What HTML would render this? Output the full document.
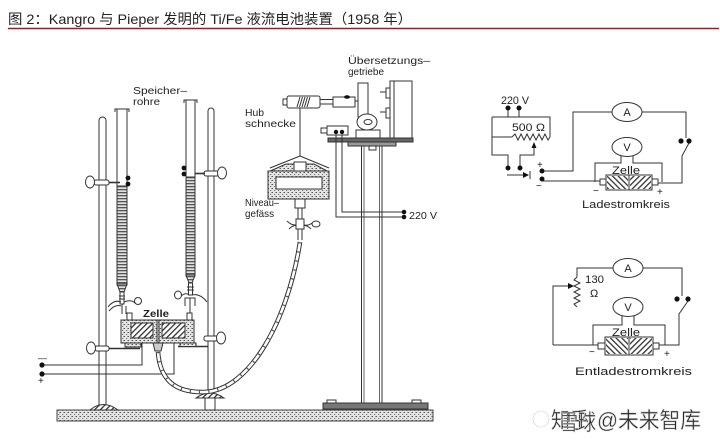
<!DOCTYPE html>
<html><head><meta charset="utf-8"><style>
html,body{margin:0;padding:0;background:#fff;}
svg{display:block;}
text{font-family:"Liberation Sans","Noto Sans CJK SC",sans-serif;fill:#222;}
</style></head><body>
<svg width="720" height="445" viewBox="0 0 720 445" xmlns="http://www.w3.org/2000/svg">
<defs>
<pattern id="stip" width="4" height="4" patternUnits="userSpaceOnUse">
<rect width="4" height="4" fill="#e4e4e4"/>
<rect x="0" y="0" width="1" height="1" fill="#555"/>
<rect x="2" y="2" width="1.2" height="1" fill="#777"/>
<rect x="3" y="0" width="1" height="1" fill="#999"/>
</pattern>
<pattern id="stripe" width="10" height="3" patternUnits="userSpaceOnUse">
<rect width="10" height="3" fill="#e0e0e0"/>
<rect y="0" width="10" height="1.3" fill="#555"/>
</pattern>
<pattern id="hatchA" width="4" height="4" patternUnits="userSpaceOnUse" patternTransform="rotate(45)">
<rect width="4" height="4" fill="#fff"/>
<rect width="1.3" height="4" fill="#333"/>
</pattern>
<pattern id="hatchB" width="4" height="4" patternUnits="userSpaceOnUse" patternTransform="rotate(-45)">
<rect width="4" height="4" fill="#fff"/>
<rect width="1.3" height="4" fill="#333"/>
</pattern>
</defs>

<!-- Title -->
<text x="8" y="24" font-size="14" fill="#111" textLength="404" lengthAdjust="spacingAndGlyphs">图 2：Kangro 与 Pieper 发明的 Ti/Fe 液流电池装置（1958 年）</text>
<line x1="8" y1="28.5" x2="719" y2="28.5" stroke="#a31818" stroke-width="1.5"/>

<g stroke="#333" stroke-width="1" fill="none">
<!-- Base slab -->
<rect x="57" y="410" width="376" height="11" fill="url(#stip)" stroke="#444"/>

<!-- Left rod -->
<rect x="99" y="117" width="7" height="292" rx="3.5" fill="#fff"/>
<!-- Right rod -->
<rect x="208" y="108" width="6" height="290" rx="3" fill="#fff"/>
<!-- Feet -->
<path d="M90,410 Q103,399 118,410 Z" fill="url(#hatchA)"/>
<path d="M196,398 Q210,388 224,398 Z" fill="url(#hatchA)"/>
<rect x="205" y="398" width="10" height="12" fill="#fff"/>

<!-- Left storage tube -->
<rect x="117" y="109" width="10" height="176" fill="#fff"/>
<path d="M115,112 V109 H129 V112"/>
<rect x="117" y="186" width="10" height="98" fill="url(#stripe)"/>
<polygon points="117,284 127,284 124,292 120,292" fill="url(#stripe)"/>
<rect x="120" y="292" width="4" height="12" fill="#fff"/>
<line x1="119" y1="296" x2="125" y2="296"/><line x1="119" y1="299" x2="125" y2="299"/>
<path d="M108,307 Q114,299 121,302"/>
<path d="M124,302 Q131,299 135,303"/>
<circle cx="138" cy="301" r="3.5" fill="#fff"/>
<path d="M109,311 Q115,304 121,306"/>
<line x1="122" y1="304" x2="122" y2="314"/>
<line x1="126" y1="306" x2="126" y2="314"/>

<!-- Right storage tube -->
<path d="M186,100 V276 Q190.5,284 195,276 V100 Z" fill="#fff"/>
<path d="M184,103 V100 H197 V103"/>
<rect x="186" y="177" width="9" height="98" fill="url(#stripe)"/>
<polygon points="186,275 195,275 192,283 189,283" fill="url(#stripe)"/>
<rect x="188.5" y="283" width="4" height="12" fill="#fff"/>
<line x1="187" y1="287" x2="194" y2="287"/><line x1="187" y1="290" x2="194" y2="290"/>
<path d="M181,296 Q186,292 189,295"/>
<path d="M192,295 Q200,293 207,302"/>
<ellipse cx="178" cy="295" rx="3.5" ry="4" fill="#fff"/>
<path d="M185,306 V298 H195 V306"/>
<line x1="190" y1="298" x2="190" y2="314"/>

<!-- Upper clamps -->
<rect x="94" y="180" width="15" height="5" rx="2" fill="#fff"/>
<ellipse cx="90" cy="182" rx="4.5" ry="6" fill="#fff"/>
<line x1="109" y1="182.5" x2="120" y2="182.5" stroke-width="1.6"/>
<rect x="204" y="171" width="15" height="5" rx="2" fill="#fff"/>
<ellipse cx="222" cy="173" rx="4.5" ry="6" fill="#fff"/>
<line x1="195" y1="173.5" x2="205" y2="173.5" stroke-width="1.6"/>
</g>
<g fill="#111">
<circle cx="128" cy="178" r="2.4"/><circle cx="128" cy="184" r="2.4"/>
<circle cx="184" cy="168" r="2.4"/><circle cx="184" cy="174" r="2.4"/>
</g>

<g stroke="#333" stroke-width="1" fill="none">
<!-- Cell -->
<rect x="127" y="313" width="5" height="8" fill="#fff"/>
<rect x="187" y="313" width="5" height="8" fill="#fff"/>
<rect x="121" y="320" width="73" height="23" fill="url(#stip)"/>
<rect x="131" y="323" width="22" height="15" fill="url(#hatchA)"/>
<rect x="162" y="323" width="23" height="15" fill="url(#hatchA)"/>
<line x1="157" y1="320" x2="157" y2="343"/><line x1="159" y1="320" x2="159" y2="343"/>
<!-- cell clamps -->
<rect x="95" y="346" width="14" height="5" rx="2" fill="#fff"/>
<ellipse cx="91" cy="348" rx="4.5" ry="6" fill="#fff"/>
<line x1="109" y1="348.5" x2="140" y2="348.5" stroke-width="1.5"/>
<rect x="125" y="343" width="16" height="4" fill="url(#stip)"/>
<rect x="204" y="336" width="14" height="5" rx="2" fill="#fff"/>
<ellipse cx="221" cy="338" rx="4.5" ry="6" fill="#fff"/>
<line x1="178" y1="346.5" x2="208" y2="346.5" stroke-width="1.5"/>
<rect x="180" y="343" width="16" height="3.5" fill="url(#stip)"/>
<!-- connector under cell -->
<path d="M153,343 H163 L161,351 H155 Z" fill="#ccc"/>
<!-- wires to terminals -->
<path d="M142,343 V365 H44"/>
<path d="M174,343 V374 H44"/>

<!-- Flexible tube -->
<path d="M158,352 C160,380 175,393 205,392 C250,390 288,320 300,242" stroke="#333" stroke-width="4.6"/>
<path d="M158,352 C160,380 175,393 205,392 C250,390 288,320 300,242" stroke="#fff" stroke-width="2.6"/>
<path d="M158,352 C160,380 175,393 205,392 C250,390 288,320 300,242" stroke="#555" stroke-width="2.6" stroke-dasharray="1.2 8"/>

<!-- Column -->
<line x1="361.5" y1="146" x2="361.5" y2="403"/>
<line x1="364" y1="146" x2="364" y2="403" stroke="#666"/>
<line x1="379.5" y1="146" x2="379.5" y2="403" stroke="#666"/>
<line x1="382" y1="146" x2="382" y2="403"/>
<rect x="323" y="403" width="105" height="6" fill="#777"/>
<rect x="327" y="400" width="9" height="3" fill="#fff"/>
<rect x="412" y="400" width="9" height="3" fill="#fff"/>

<!-- Gear assembly -->
<rect x="390" y="81" width="22" height="57" fill="#fff"/>
<line x1="394" y1="81" x2="394" y2="138"/>
<path d="M380,92 H386 V88 H390 M386,92 V98 H390 M380,112 H386 V108 H390 M386,112 V118 H390"/>
<rect x="358" y="83" width="10" height="34" fill="#fff"/>
<ellipse cx="367" cy="122" rx="10" ry="8" fill="#fff"/>
<ellipse cx="368" cy="122" rx="4" ry="2.5"/>
<rect x="356" y="130" width="24" height="8" fill="#fff"/>
<rect x="328" y="138" width="85" height="4" fill="#666"/>
<rect x="348" y="142" width="48" height="4" fill="#999"/>
<rect x="369" y="146" width="7" height="4" fill="#fff"/>

<!-- Hub screw -->
<rect x="283" y="99" width="4" height="6" fill="#fff"/>
<rect x="287" y="96" width="33" height="12" rx="2" fill="#fff"/>
<path d="M297,107 L300,97 M299.5,107 L302.5,97 M302,107 L305,97 M304.5,107 L307.5,97 M307,107 L310,97"/>
<line x1="320" y1="99.5" x2="333" y2="99.5"/>
<line x1="320" y1="104" x2="333" y2="104"/>
<rect x="333" y="97" width="22" height="10" fill="#fff"/>
<line x1="355" y1="101" x2="358" y2="101"/>

<!-- Switch box -->
<rect x="321" y="128" width="6" height="5" fill="#fff"/>
<rect x="327" y="126" width="21" height="9" fill="#fff"/>
<path d="M336,135 V217 H402"/>
<path d="M342,135 V212 H402"/>

<!-- Level vessel -->
<line x1="300" y1="108" x2="300" y2="156"/>
<path d="M300,156 L270,168 M300,156 L329,168"/>
<polygon points="268,172 286,164 314,164 329,172" fill="url(#stip)"/>
<rect x="268" y="171" width="61" height="28" fill="url(#stip)"/>
<rect x="276" y="177" width="46" height="12" fill="#fff"/>
<rect x="294" y="162" width="12" height="9" fill="#fff"/>
<rect x="295" y="199" width="10" height="9" fill="#fff"/>
<line x1="298" y1="208" x2="298" y2="240"/>
<line x1="302" y1="208" x2="302" y2="240"/>
<path d="M287,221 Q293,227 299,224 M301,224 Q307,227 312,223"/>
<path d="M289,229 Q294,224 299,226 M301,226 Q306,224 311,229"/>
<ellipse cx="316" cy="224" rx="4" ry="3" fill="#fff"/>
<rect x="296" y="219" width="8" height="10" fill="#fff"/>
</g>
<g fill="#111">
<ellipse cx="347" cy="97" rx="3" ry="1.8"/>
<circle cx="336" cy="132" r="2.2"/><circle cx="342" cy="132" r="2.2"/>
<circle cx="404" cy="212" r="2.3"/><circle cx="404" cy="217" r="2.3"/>
<circle cx="42" cy="365" r="2.6"/><circle cx="42" cy="374" r="2.6"/>
</g>

<!-- Apparatus labels -->
<g font-size="10.5">
<text x="133" y="94" textLength="54" lengthAdjust="spacingAndGlyphs">Speicher–</text>
<text x="133" y="105" textLength="27" lengthAdjust="spacingAndGlyphs">rohre</text>
<text x="245" y="116" textLength="19" lengthAdjust="spacingAndGlyphs">Hub</text>
<text x="245" y="127" textLength="51" lengthAdjust="spacingAndGlyphs">schnecke</text>
<text x="245" y="206" textLength="34" lengthAdjust="spacingAndGlyphs">Niveau–</text>
<text x="245" y="217" textLength="29" lengthAdjust="spacingAndGlyphs">gefäss</text>
<text x="348" y="64" textLength="82" lengthAdjust="spacingAndGlyphs">Übersetzungs–</text>
<text x="348" y="75" textLength="36" lengthAdjust="spacingAndGlyphs">getriebe</text>
<text x="409" y="219" textLength="28" lengthAdjust="spacingAndGlyphs">220 V</text>
<text x="143" y="317" font-weight="bold" textLength="26" lengthAdjust="spacingAndGlyphs">Zelle</text>
<text x="38" y="361" font-size="9">—</text>
<text x="38" y="384" font-size="10">+</text>
</g>

<!-- Ladestromkreis circuit -->
<g stroke="#333" stroke-width="1" fill="none">
<path d="M508,108 V117 M519,108 V117 M492,117 H550 V137 M492,117 V155 H508 V168 M492,137 H512"/>
<polyline points="512,137 515,134 518,140 521,134 524,140 527,134 530,140 533,134 536,140 539,134 542,140 545,134 548,140 550,137"/>
<path d="M520,168 V155 H534 V147"/>
<path d="M507,175 H524"/>
<line x1="530" y1="171" x2="530" y2="179"/>
<path d="M542,171 H573 V112 H612"/>
<path d="M642,112 H686 V138"/>
<path d="M689,143 L682,156 V183 H658"/>
<path d="M542,181 H600"/>
<ellipse cx="627" cy="112" rx="15" ry="9.5" fill="#fff"/>
<ellipse cx="627" cy="147" rx="15" ry="9.5" fill="#fff"/>
<path d="M621,156 V163 H595 V182 M633,156 V163 H662 V182"/>
<rect x="600" y="179" width="6" height="6" fill="#fff"/>
<rect x="652" y="179" width="6" height="6" fill="#fff"/>
<rect x="606" y="175" width="46" height="15" fill="#fff"/>
<rect x="607" y="176" width="21" height="13" fill="url(#hatchB)" stroke="none"/>
<rect x="630" y="176" width="21" height="13" fill="url(#hatchA)" stroke="none"/>
<line x1="629" y1="175" x2="629" y2="190"/>
</g>
<g fill="#111">
<polygon points="534,142 531.5,148 536.5,148"/>
<polygon points="529,175 523,172 523,178"/>
<circle cx="508" cy="108" r="2.5"/><circle cx="519" cy="108" r="2.5"/>
<circle cx="508" cy="168" r="2.5"/><circle cx="520" cy="168" r="2.5"/>
<circle cx="542" cy="171" r="2.5"/><circle cx="542" cy="179" r="2.5"/>
<circle cx="681" cy="141" r="2.6"/><circle cx="689" cy="141" r="2.6"/>
</g>
<g font-size="11">
<text x="501" y="104" textLength="28" lengthAdjust="spacingAndGlyphs">220 V</text>
<text x="512" y="131" textLength="33" lengthAdjust="spacingAndGlyphs">500 Ω</text>
<text x="537" y="168" font-size="10">+</text>
<text x="536" y="189" font-size="10">−</text>
<text x="627" y="116" text-anchor="middle">A</text>
<text x="627" y="151" text-anchor="middle">V</text>
<text x="612" y="174" textLength="28" lengthAdjust="spacingAndGlyphs">Zelle</text>
<text x="593" y="194" font-size="10">−</text>
<text x="657" y="195" font-size="10">+</text>
<text x="582" y="208" textLength="88" lengthAdjust="spacingAndGlyphs">Ladestromkreis</text>
</g>

<!-- Entladestromkreis circuit -->
<g stroke="#333" stroke-width="1" fill="none">
<path d="M613,268 H577 V277"/>
<polyline points="577,277 574,280 580,283 574,286 580,289 574,292 580,295 574,298 580,301 574,304 577,307"/>
<path d="M553,345 V286 H569"/>
<path d="M553,345 H598"/>
<path d="M643,268 H682 V296"/>
<path d="M688,301 L679,314 V345 H659"/>
<ellipse cx="628" cy="268" rx="15" ry="9.5" fill="#fff"/>
<ellipse cx="628" cy="307" rx="15" ry="9.5" fill="#fff"/>
<path d="M622,316 V325 H593 V345 M634,316 V325 H665 V345"/>
<rect x="598" y="343" width="7" height="6" fill="#fff"/>
<rect x="653" y="343" width="6" height="6" fill="#fff"/>
<rect x="605" y="337" width="48" height="18" fill="#fff"/>
<rect x="606" y="338" width="22" height="16" fill="url(#hatchB)" stroke="none"/>
<rect x="630" y="338" width="22" height="16" fill="url(#hatchA)" stroke="none"/>
<line x1="629" y1="337" x2="629" y2="355"/>
</g>
<g fill="#111">
<polygon points="574,286 568,283 568,289"/>
<circle cx="677" cy="299" r="2.6"/><circle cx="688" cy="299" r="2.6"/>
</g>
<g font-size="11">
<text x="585" y="283" textLength="19" lengthAdjust="spacingAndGlyphs">130</text>
<text x="590" y="297">Ω</text>
<text x="628" y="272" text-anchor="middle">A</text>
<text x="628" y="311" text-anchor="middle">V</text>
<text x="612" y="336" textLength="28" lengthAdjust="spacingAndGlyphs">Zelle</text>
<text x="589" y="355" font-size="10">−</text>
<text x="664" y="357" font-size="10">+</text>
<text x="575" y="375" textLength="117" lengthAdjust="spacingAndGlyphs">Entladestromkreis</text>
</g>

<!-- Watermark -->
<g font-size="22" stroke-width="0.6">
<circle cx="541" cy="419" r="8" fill="none" stroke="#cfcfcf"/>
<text x="551" y="428" fill="#fff" stroke="#cccccc" textLength="38" lengthAdjust="spacingAndGlyphs">知乎</text>
<text x="560" y="430" fill="none" stroke="#d6d6d6" textLength="36" lengthAdjust="spacingAndGlyphs">雪球</text>
<text x="597" y="428" fill="#fff" stroke="#cccccc" textLength="104" lengthAdjust="spacingAndGlyphs">@未来智库</text>
</g>
</svg>
</body></html>
